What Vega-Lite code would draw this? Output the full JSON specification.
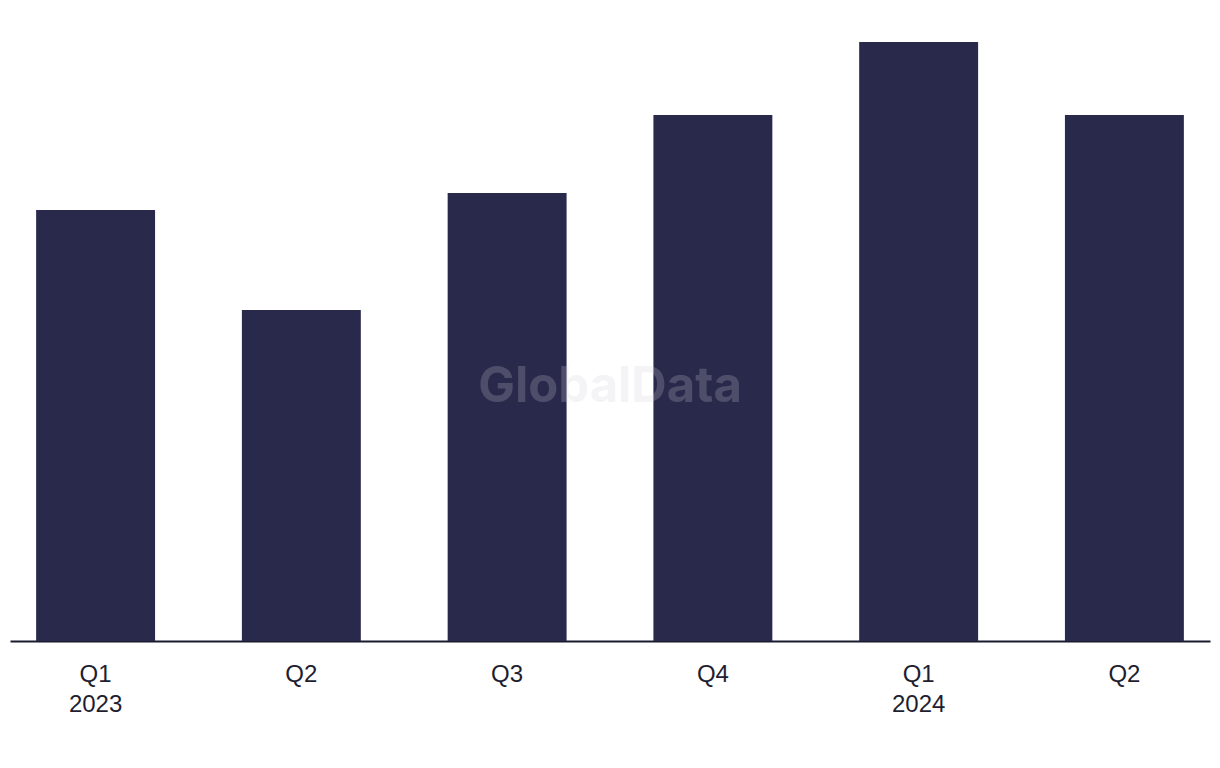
{
  "$schema": "https://vega.github.io/schema/vega-lite/v6.json",
  "width": 1200,
  "height": 600,
  "padding": {"left": 10, "right": 10, "top": 41, "bottom": 10},
  "background": "white",
  "config": {"view": {"stroke": null}},
  "layer": [
    {
      "data": {"values": [
        {"period": "Q1 2023", "value": 43.1},
        {"period": "Q2 2023", "value": 33.1},
        {"period": "Q3 2023", "value": 44.8},
        {"period": "Q4 2023", "value": 52.6},
        {"period": "Q1 2024", "value": 59.9},
        {"period": "Q2 2024", "value": 52.6}
      ]},
      "mark": {"type": "bar", "color": "#29294b"},
      "encoding": {
        "x": {
          "field": "period", "type": "nominal", "sort": null,
          "scale": {"paddingInner": 0.422, "paddingOuter": 0.127},
          "axis": {
            "title": null, "ticks": false, "labelAngle": 0,
            "labelExpr": "indexof(datum.value,'Q1')==0 ? split(datum.value,' ') : split(datum.value,' ')[0]",
            "labelFont": "Liberation Sans", "labelFontSize": 24, "labelColor": "#1e1e30",
            "labelLineHeight": 30, "labelPadding": 21, "labelBaseline": "top",
            "domainColor": "#1a1a2e", "domainWidth": 2, "grid": false
          }
        },
        "y": {
          "field": "value", "type": "quantitative",
          "scale": {"domain": [0, 60], "nice": false},
          "axis": null
        }
      }
    },
    {
      "data": {"values": [{"label": "GlobalData"}]},
      "mark": {
        "type": "text", "x": {"expr": "width/2"}, "font": "Inter", "fontWeight": "bold",
        "fontSize": 49, "color": "#d0d0dc", "opacity": 0.22, "align": "center", "baseline": "middle"
      },
      "encoding": {
        "text": {"field": "label"},
        "y": {"datum": 25.4, "type": "quantitative"}
      }
    }
  ]
}
